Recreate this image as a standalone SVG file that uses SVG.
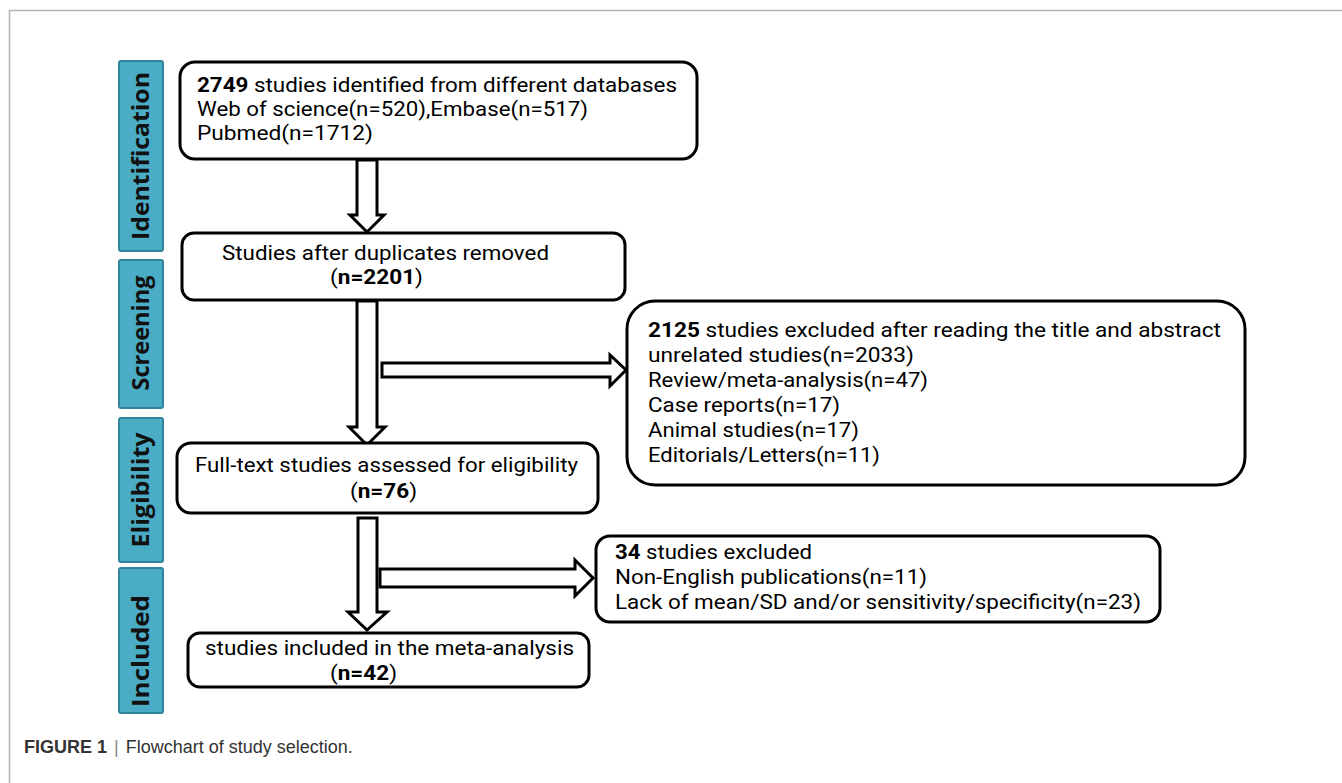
<svg xmlns="http://www.w3.org/2000/svg" width="1342" height="783" viewBox="0 0 1342 783">
<defs>
<style>
.frame{fill:none;stroke:#b4b4b4;stroke-width:1.5}
.side{fill:#4bacc6;stroke:#31849b;stroke-width:2}
.sidet{font-family:"Open Sans","Noto Sans",sans-serif;font-weight:bold;font-size:24px;fill:#111;text-anchor:middle}
.box{fill:#fff;stroke:#000;stroke-width:3}
.t{font-family:Roboto,"Open Sans",sans-serif;font-size:20px;fill:#000}
.b{font-weight:bold}
.arr{fill:#fff;stroke:#000;stroke-width:3;stroke-linejoin:miter}
.cap{font-family:"Liberation Sans",Arial,sans-serif;font-size:18px;fill:#333}
</style>
</defs>
<rect width="1342" height="783" fill="#fff"/>
<path class="frame" d="M1342,10.5 H9.5 V783"/>

<g id="stage-identification">
<rect class="side" x="119" y="61" width="44" height="190" rx="2"/>
<text class="sidet" transform="translate(149,156) rotate(-90)" textLength="168" lengthAdjust="spacingAndGlyphs">Identification</text>
</g>
<g id="stage-screening">
<rect class="side" x="119" y="260" width="44" height="148" rx="2"/>
<text class="sidet" transform="translate(149,333) rotate(-90)" textLength="115" lengthAdjust="spacingAndGlyphs">Screening</text>
</g>
<g id="stage-eligibility">
<rect class="side" x="119" y="418" width="44" height="144" rx="2"/>
<text class="sidet" transform="translate(149,490) rotate(-90)" textLength="115" lengthAdjust="spacingAndGlyphs">Eligibility</text>
</g>
<g id="stage-included">
<rect class="side" x="119" y="568" width="44" height="145" rx="2"/>
<text class="sidet" transform="translate(149,651) rotate(-90)" textLength="112" lengthAdjust="spacingAndGlyphs">Included</text>
</g>

<g id="connectors">
<polygon class="arr" points="357,160 377,160 377,215 384,215 367,232 350,215 357,215"/>
<polygon class="arr" points="357,301 377,301 377,427 385,427 367,445 349,427 357,427"/>
<polygon class="arr" points="382,363 610,363 610,355 626,370 610,386 610,377 382,377"/>
<polygon class="arr" points="358,518 377,518 377,612 387,612 367,630 348,612 358,612"/>
<polygon class="arr" points="380,569 575,569 575,560 593,578 575,596 575,587 380,587"/>
</g>

<g id="identified">
<rect class="box" x="180" y="62" width="517" height="97" rx="15"/>
<text class="t" x="197" y="92" textLength="480" lengthAdjust="spacingAndGlyphs"><tspan class="b">2749</tspan> studies identified from different databases</text>
<text class="t" x="197" y="116" textLength="391" lengthAdjust="spacingAndGlyphs">Web of science(n=520),Embase(n=517)</text>
<text class="t" x="197" y="140" textLength="176" lengthAdjust="spacingAndGlyphs">Pubmed(n=1712)</text>
</g>

<g id="deduplicated">
<rect class="box" x="182" y="233" width="443" height="67" rx="12"/>
<text class="t" x="222" y="260" textLength="327" lengthAdjust="spacingAndGlyphs">Studies after duplicates removed</text>
<text class="t" x="330" y="284" textLength="93" lengthAdjust="spacingAndGlyphs">(<tspan class="b">n=2201</tspan>)</text>
</g>

<g id="excluded-screening">
<rect class="box" x="627" y="301" width="618" height="184" rx="28"/>
<text class="t" x="648" y="337" textLength="573" lengthAdjust="spacingAndGlyphs"><tspan class="b">2125</tspan> studies excluded after reading the title and abstract</text>
<text class="t" x="648" y="362" textLength="266" lengthAdjust="spacingAndGlyphs">unrelated studies(n=2033)</text>
<text class="t" x="648" y="387" textLength="280" lengthAdjust="spacingAndGlyphs">Review/meta-analysis(n=47)</text>
<text class="t" x="648" y="412" textLength="192" lengthAdjust="spacingAndGlyphs">Case reports(n=17)</text>
<text class="t" x="648" y="437" textLength="211" lengthAdjust="spacingAndGlyphs">Animal studies(n=17)</text>
<text class="t" x="648" y="462" textLength="232" lengthAdjust="spacingAndGlyphs">Editorials/Letters(n=11)</text>
</g>

<g id="fulltext">
<rect class="box" x="177" y="443" width="421" height="70" rx="14"/>
<text class="t" x="195" y="472" textLength="383" lengthAdjust="spacingAndGlyphs">Full-text studies assessed for eligibility</text>
<text class="t" x="350" y="498" textLength="67" lengthAdjust="spacingAndGlyphs">(<tspan class="b">n=76</tspan>)</text>
</g>

<g id="excluded-eligibility">
<rect class="box" x="596" y="536" width="564" height="86" rx="14"/>
<text class="t" x="615" y="559" textLength="197" lengthAdjust="spacingAndGlyphs"><tspan class="b">34</tspan> studies excluded</text>
<text class="t" x="615" y="584" textLength="312" lengthAdjust="spacingAndGlyphs">Non-English publications(n=11)</text>
<text class="t" x="615" y="609" textLength="526" lengthAdjust="spacingAndGlyphs">Lack of mean/SD and/or sensitivity/specificity(n=23)</text>
</g>

<g id="included">
<rect class="box" x="188" y="633" width="401" height="54" rx="12"/>
<text class="t" x="205" y="655" textLength="369" lengthAdjust="spacingAndGlyphs">studies included in the meta-analysis</text>
<text class="t" x="330" y="680" textLength="67" lengthAdjust="spacingAndGlyphs">(<tspan class="b">n=42</tspan>)</text>
</g>

<g id="caption">
<text class="cap" x="24" y="753"><tspan font-weight="bold">FIGURE 1</tspan><tspan fill="#888" dx="7">|</tspan><tspan dx="7">Flowchart of study selection.</tspan></text>
</g>
</svg>
